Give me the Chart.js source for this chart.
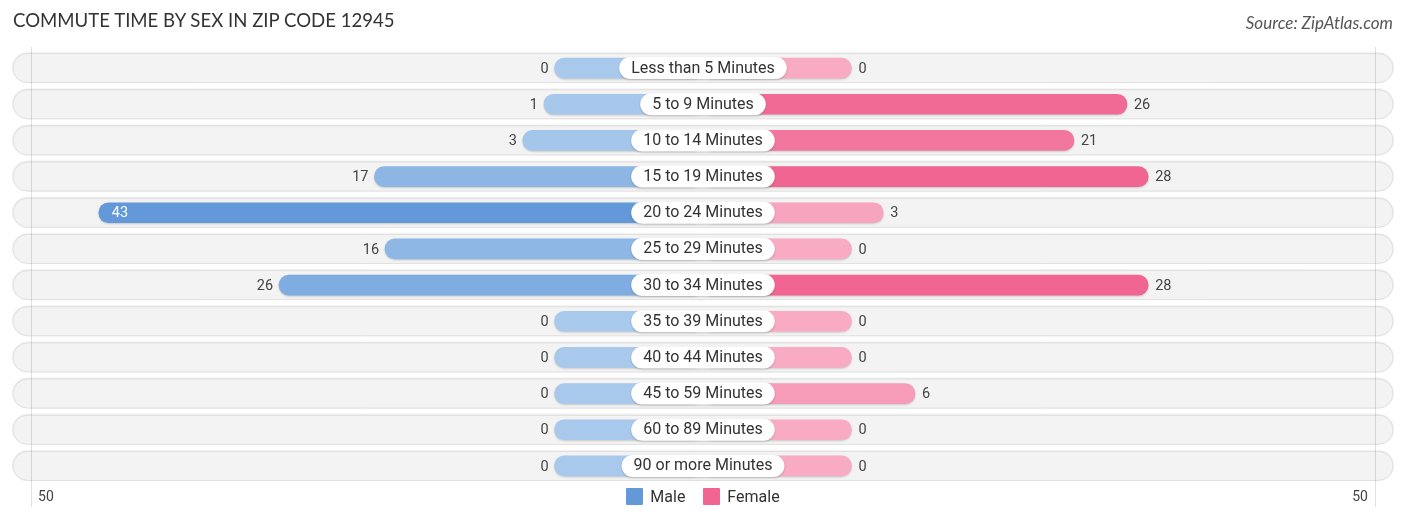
<!DOCTYPE html>
<html>
<head>
<meta charset="utf-8">
<script src="https://cdn.jsdelivr.net/npm/chart.js@4"></script>
<style>
    body { margin: 0; background: #fff; }
    .wrap { position: relative; width: 1406px; height: 522px; font-family: Roboto, sans-serif; }
    .title { position: absolute; left: 13px; top: 9px; font-family: Lato, sans-serif; font-size: 18.6px; color: #333; }
    .source { position: absolute; right: 13px; top: 12px; font-family: Lato, sans-serif; font-style: italic; font-size: 17px; color: #555; }
    .legend { position: absolute; left: 0; right: 0; top: 487px; text-align: center; font-size: 16px; color: #333; }
    .legend span { display: inline-flex; align-items: center; margin: 0 7px; }
    .legend i { display: inline-block; width: 17px; height: 17px; margin-right: 7px; border-radius: 1px; }
    canvas { position: absolute; left: 0; top: 0; }
</style>
</head>
<body>
<div class="wrap">
    <canvas id="myChart" width="1406" height="522"></canvas>
    <div class="title">COMMUTE TIME BY SEX IN ZIP CODE 12945</div>
    <div class="source">Source: ZipAtlas.com</div>
    <div class="legend">
        <span><i style="background:#6399d9"></i>Male</span>
        <span><i style="background:#f06592"></i>Female</span>
    </div>
</div>
<script>
const categories = [
    'Less than 5 Minutes', '5 to 9 Minutes', '10 to 14 Minutes', '15 to 19 Minutes',
    '20 to 24 Minutes', '25 to 29 Minutes', '30 to 34 Minutes', '35 to 39 Minutes',
    '40 to 44 Minutes', '45 to 59 Minutes', '60 to 89 Minutes', '90 or more Minutes',
];
const maleValues = [0, 1, 3, 17, 43, 16, 26, 0, 0, 0, 0, 0];
const femaleValues = [0, 26, 21, 28, 3, 0, 28, 0, 0, 6, 0, 0];
const axisTickLabel = 50;

// every bar gets a stub so the zero rows still show a bit of colour
const STUB = 14;
const EDGE = 65.1;
const GRID_AT = 63.4;

const mix = (a, b, t) => {
    const c = a.map((v, i) => Math.round(v + (b[i] - v) * t));
    return `rgb(${c[0]},${c[1]},${c[2]})`;
};
const maleMax = Math.max(...maleValues);
const femaleMax = Math.max(...femaleValues);
const maleColors = maleValues.map((v) => mix([169, 201, 236], [99, 153, 217], v / maleMax));
const femaleColors = femaleValues.map((v) => mix([248, 171, 195], [240, 101, 146], v / femaleMax));

const roundRect = (ctx, x, y, w, h, r) => {
    ctx.beginPath();
    ctx.moveTo(x + r, y);
    ctx.arcTo(x + w, y, x + w, y + h, r);
    ctx.arcTo(x + w, y + h, x, y + h, r);
    ctx.arcTo(x, y + h, x, y, r);
    ctx.arcTo(x, y, x + w, y, r);
    ctx.closePath();
};

const decorPlugin = {
    id: 'decor',
    beforeDatasetsDraw(chart) {
        const { ctx, chartArea, scales } = chart;
        ctx.save();
        // row backgrounds
        categories.forEach((c, i) => {
            const y = scales.y.getPixelForValue(i);
            const h = 29;
            ctx.shadowColor = 'rgba(0,0,0,0.18)';
            ctx.shadowBlur = 2;
            ctx.shadowOffsetY = -0.5;
            roundRect(ctx, chartArea.left, y - h / 2, chartArea.right - chartArea.left, h, h / 2);
            ctx.fillStyle = '#f3f3f3';
            ctx.fill();
            ctx.shadowColor = 'transparent';
            ctx.strokeStyle = '#e0e0e0';
            ctx.lineWidth = 1;
            ctx.stroke();
        });
        // grid lines at +-50
        ctx.strokeStyle = 'rgba(0,0,0,0.12)';
        ctx.lineWidth = 1;
        [-GRID_AT, GRID_AT].forEach((v) => {
            const x = Math.round(scales.x.getPixelForValue(v)) + 0.5;
            ctx.beginPath();
            ctx.moveTo(x, chartArea.top - 3);
            ctx.lineTo(x, chartArea.bottom + 23);
            ctx.stroke();
        });
        ctx.font = '14px Roboto';
        ctx.fillStyle = '#444';
        ctx.textBaseline = 'middle';
        ctx.textAlign = 'left';
        ctx.fillText(String(axisTickLabel), scales.x.getPixelForValue(-GRID_AT) + 7, chartArea.bottom + 13);
        ctx.textAlign = 'right';
        ctx.fillText(String(axisTickLabel), scales.x.getPixelForValue(GRID_AT) - 7, chartArea.bottom + 13);
        ctx.restore();
    },
    beforeDatasetDraw(chart) {
        chart.ctx.save();
        chart.ctx.shadowColor = 'rgba(0,0,0,0.18)';
        chart.ctx.shadowBlur = 2;
        chart.ctx.shadowOffsetY = 1;
    },
    afterDatasetDraw(chart) {
        chart.ctx.restore();
    },
    afterDatasetsDraw(chart) {
        const { ctx, scales } = chart;
        const cx = scales.x.getPixelForValue(0);
        ctx.save();
        ctx.textBaseline = 'middle';
        categories.forEach((c, i) => {
            const y = scales.y.getPixelForValue(i);
            // value labels
            ctx.font = '14.5px Roboto';
            const m = maleValues[i];
            const mx = scales.x.getPixelForValue(-(STUB + m));
            if (m > 35) {
                ctx.fillStyle = '#fff';
                ctx.textAlign = 'left';
                ctx.fillText(String(m), mx + 13, y + 1);
            } else {
                ctx.fillStyle = '#444';
                ctx.textAlign = 'right';
                ctx.fillText(String(m), mx - 6, y + 1);
            }
            const f = femaleValues[i];
            const fx = scales.x.getPixelForValue(STUB + f);
            if (f > 35) {
                ctx.fillStyle = '#fff';
                ctx.textAlign = 'right';
                ctx.fillText(String(f), fx - 13, y + 1);
            } else {
                ctx.fillStyle = '#444';
                ctx.textAlign = 'left';
                ctx.fillText(String(f), fx + 7, y + 1);
            }
            // category pill
            ctx.font = '16px Roboto';
            const w = ctx.measureText(c).width + 24;
            ctx.shadowColor = 'rgba(0,0,0,0.2)';
            ctx.shadowBlur = 2;
            ctx.shadowOffsetY = 1;
            roundRect(ctx, cx - w / 2, y - 11, w, 22, 11);
            ctx.fillStyle = '#fff';
            ctx.fill();
            ctx.shadowColor = 'transparent';
            ctx.fillStyle = '#333';
            ctx.textAlign = 'center';
            ctx.fillText(c, cx, y + 0.5);
        });
        ctx.restore();
    },
};

const canvas = document.getElementById('myChart');
const chart = new Chart(canvas, {
    type: 'bar',
    data: {
        labels: categories,
        datasets: [
            {
                label: 'Male',
                data: maleValues.map((v) => [-(STUB + v), 0]),
                backgroundColor: maleColors,
            },
            {
                label: 'Female',
                data: femaleValues.map((v) => [0, STUB + v]),
                backgroundColor: femaleColors,
            },
        ],
    },
    options: {
        indexAxis: 'y',
        responsive: false,
        animation: false,
        layout: { padding: { left: 13, right: 13, top: 50, bottom: 38 } },
        datasets: {
            bar: {
                grouped: false,
                barThickness: 20,
                borderRadius: 10,
                borderSkipped: false,
            },
        },
        scales: {
            x: { display: false, min: -EDGE, max: EDGE },
            y: { display: false },
        },
        plugins: {
            legend: { display: false },
            tooltip: { enabled: false },
        },
    },
    plugins: [decorPlugin],
});
</script>
</body>
</html>
